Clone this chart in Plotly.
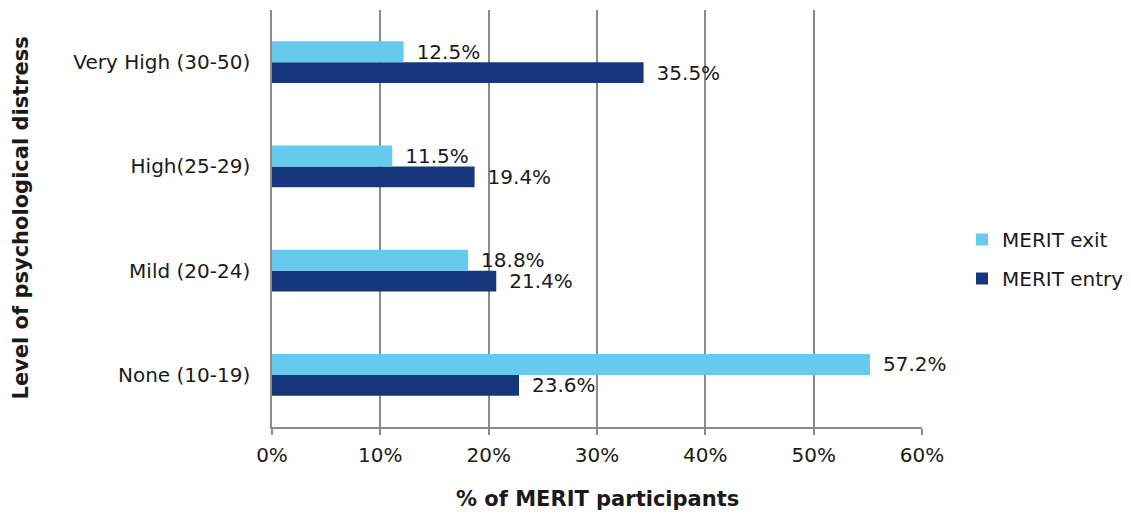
import plotly.graph_objects as go

categories = ["None (10-19)", "Mild (20-24)", "High(25-29)", "Very High (30-50)"]
entry_values = [22.8, 20.7, 18.7, 34.3]
exit_values = [55.2, 18.1, 11.1, 12.15]
entry_labels = ["23.6%", "21.4%", "19.4%", "35.5%"]
exit_labels = ["57.2%", "18.8%", "11.5%", "12.5%"]
x_ticks = [0, 10, 20, 30, 40, 50, 60]
x_tick_labels = ["0%", "10%", "20%", "30%", "40%", "50%", "60%"]

FONT = "DejaVu Sans, sans-serif"
TXT = "#1a1a1a"
PAD = "\u2002"

fig = go.Figure()
fig.add_trace(go.Bar(
    y=categories, x=entry_values, orientation="h", name="MERIT entry",
    legendgroup="entry", legendrank=2,
    marker=dict(color="#17377c", line=dict(width=0)),
    text=[PAD + t for t in entry_labels], textposition="outside", cliponaxis=False,
    textfont=dict(size=20, color=TXT, family=FONT),
))
fig.add_trace(go.Bar(
    y=categories, x=exit_values, orientation="h", name="MERIT exit",
    legendgroup="exit", legendrank=1,
    marker=dict(color="#66c9ee", line=dict(width=0)),
    text=[PAD + t for t in exit_labels], textposition="outside", cliponaxis=False,
    textfont=dict(size=20, color=TXT, family=FONT),
))

PLOT_W, PLOT_H = 650, 417
fig.update_layout(
    width=1131, height=512,
    margin=dict(l=264, r=217, t=2, b=93, autoexpand=False),
    paper_bgcolor="white", plot_bgcolor="white",
    barmode="group", bargap=0.6, bargroupgap=0,
    font=dict(family=FONT, size=20, color=TXT),
    showlegend=True,
    legend=dict(x=(962 - 272) / PLOT_W, y=(427 - 259) / PLOT_H, xanchor="left", yanchor="middle",
                traceorder="grouped", font=dict(size=20, color=TXT),
                itemwidth=30, tracegroupgap=10),
    uniformtext=dict(minsize=20, mode="show"),
    annotations=[
        dict(text="<b>% of MERIT participants</b>", xref="paper", yref="paper",
             x=0.5, y=-(499 - 427) / PLOT_H, xanchor="center", yanchor="middle",
             showarrow=False, font=dict(size=21, color=TXT, family=FONT)),
        dict(text="<b>Level of psychological distress</b>", xref="paper", yref="paper",
             x=-(272 - 20) / PLOT_W, y=0.5, xanchor="center", yanchor="middle", textangle=-90,
             showarrow=False, font=dict(size=21, color=TXT, family=FONT)),
    ],
)
fig.update_xaxes(
    range=[0, 60], tickvals=x_ticks, ticktext=x_tick_labels, automargin=False,
    showgrid=True, gridcolor="#8a8a8a", gridwidth=1.5,
    showline=True, linecolor="#8a8a8a", linewidth=1.5,
    ticks="outside", ticklen=6, tickcolor="#8a8a8a", tickwidth=1.5,
    ticklabelstandoff=3,
    tickfont=dict(size=20, color=TXT, family=FONT),
    zeroline=False,
)
fig.update_yaxes(
    showline=True, linecolor="#8a8a8a", linewidth=1.5, automargin=False,
    showgrid=False, ticks="", ticklabelstandoff=16,
    tickfont=dict(size=20, color=TXT, family=FONT),
)

fig.write_html("out.html")
